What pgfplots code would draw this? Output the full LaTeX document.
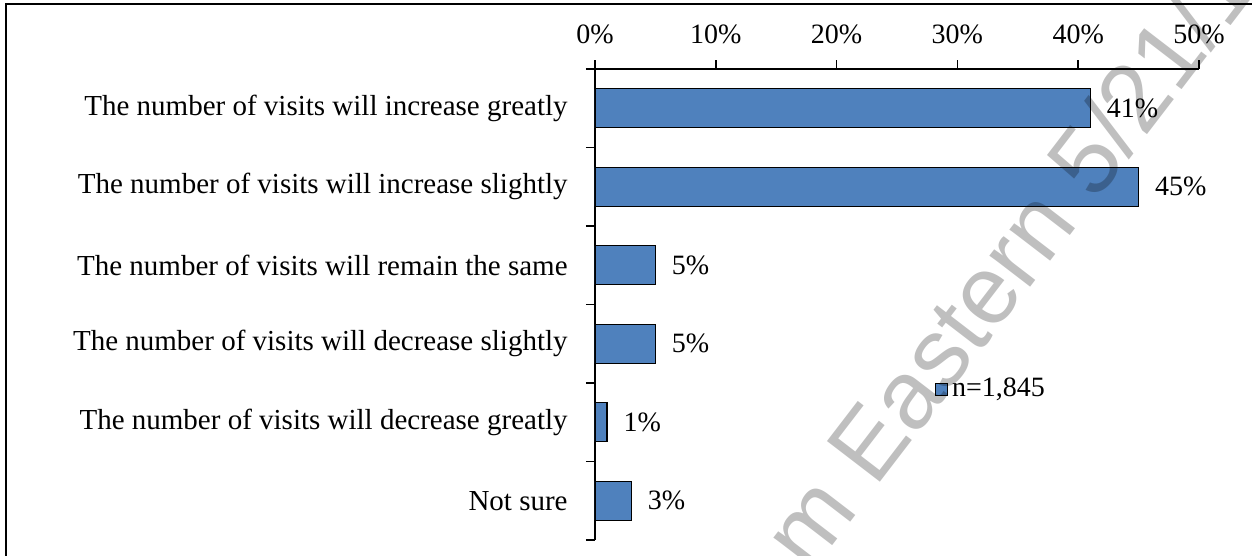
\documentclass[border=0pt]{standalone}
\usepackage{fontspec}
\setmainfont{Liberation Serif}
\newfontfamily\wmfont{Liberation Sans}
\usepackage{pgfplots}
\pgfplotsset{compat=1.18}
\definecolor{barblue}{RGB}{79,129,189}

\begin{document}
\fontsize{14}{16}\selectfont
\begin{tikzpicture}
\begin{axis}[
  at={(0,0)}, anchor=south west,
  scale only axis, width=302pt, height=235.5pt,
  xbar, bar width=0.5,
  xmin=0, xmax=50,
  ymin=-0.5, ymax=5.5,
  axis x line*=top, axis y line*=left,
  axis line style={line width=0.75pt},
  every tick/.style={black, line width=0.75pt},
  tick align=outside,
  xtick={0,10,...,50},
  xticklabels={0\%,10\%,20\%,30\%,40\%,50\%},
  xticklabel style={anchor=base, inner sep=0pt, yshift=8.5pt},
  major tick length=4.5pt,
  ytick={-0.5,0.5,...,5.5},
  yticklabels={},
  extra y ticks={0,...,5},
  extra y tick labels={Not sure,
    The number of visits will decrease greatly,
    The number of visits will decrease slightly,
    The number of visits will remain the same,
    The number of visits will increase slightly,
    The number of visits will increase greatly},
  extra y tick style={major tick length=0pt,
    yticklabel style={anchor=east, inner sep=0pt, xshift=-13.5pt,
      font=\fontsize{14.5}{16}\selectfont}},
  nodes near coords={\pgfmathprintnumber[assume math mode=true]{\pgfplotspointmeta}\%},
  every node near coord/.append style={anchor=west, inner sep=0pt, xshift=8pt, black},
  legend style={at={(axis cs:28.1,1.42)}, anchor=west, draw=none, fill=none,
    inner sep=0pt, font=\fontsize{14}{16}\selectfont},
]
\addplot[fill=barblue, draw=black, line width=0.6pt,
  legend image code/.code={\draw[fill=barblue,draw=black,line width=0.6pt] (0pt,-3pt) rectangle (6pt,3pt);}]
  coordinates {(41,5) (45,4) (5,3) (5,2) (1,1) (3,0)};
\addlegendentry{n=1,845}
\end{axis}
\draw[line width=1pt] (-294.5pt,-12pt) -- (-294.5pt,268.1pt) -- (332pt,268.1pt);
\node[rotate=52.5, anchor=base west, text=black, opacity=0.25,
  font=\wmfont\fontsize{48.5}{48.5}\selectfont] at (104.6pt,-21pt) {m Eastern 5/21/1};
\pgfresetboundingbox
\path[use as bounding box] (-297.5pt,-8pt) rectangle (328.5pt,270pt);
\end{tikzpicture}
\end{document}
